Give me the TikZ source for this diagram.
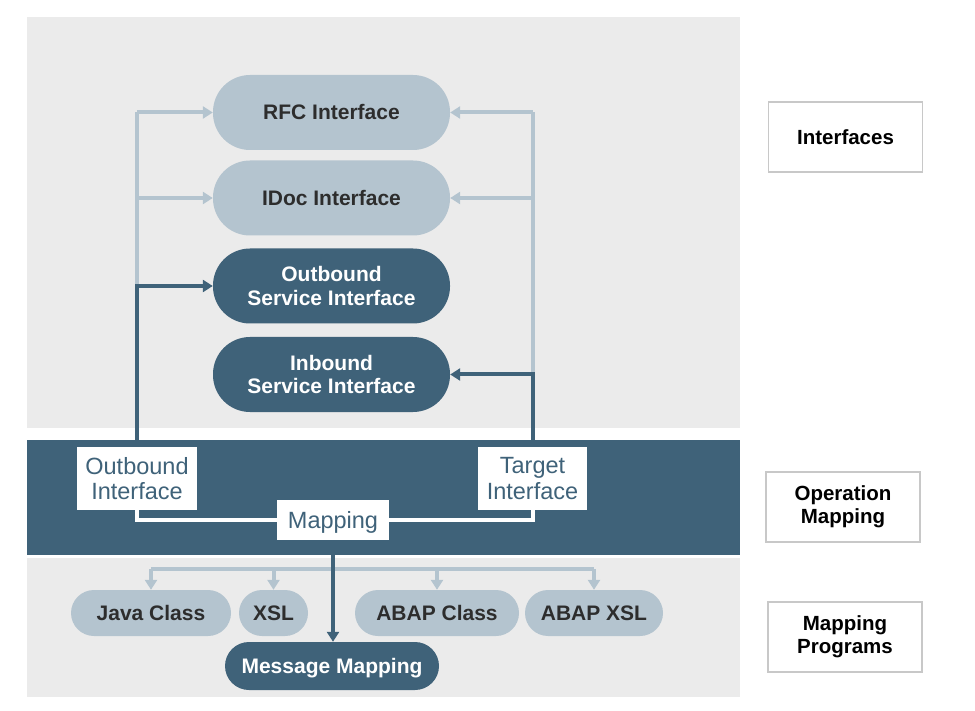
\documentclass[tikz,border=0pt]{standalone}
\usepackage{fontspec}
\setmainfont{Liberation Sans}
\usetikzlibrary{arrows.meta}
\definecolor{panelgray}{RGB}{235,235,235}
\definecolor{darkblue}{RGB}{63,98,121}
\definecolor{lightblue}{RGB}{180,196,207}
\definecolor{txtdark}{RGB}{45,45,45}
\definecolor{boxborder}{RGB}{200,200,200}
\tikzset{
  pill/.style={rectangle, rounded corners=#1, inner sep=0pt, align=center,
    font=\fontsize{21}{23.5}\selectfont\bfseries},
  lightpill/.style={pill=#1, fill=lightblue, text=txtdark},
  darkpill/.style={pill=#1, fill=darkblue, text=white},
  oneline/.style={text height=16pt, text depth=1pt},
  bandlabel/.style={rectangle, fill=white, text=darkblue, inner sep=0pt, align=center,
    font=\fontsize{23.5}{25.5}\selectfont},
  legendbox/.style={rectangle, draw=boxborder, line width=1.2pt, fill=white, text=black,
    inner sep=0pt, align=center, font=\fontsize{20.5}{23}\selectfont\bfseries,
    minimum width=154pt, minimum height=70pt},
  lightline/.style={draw=lightblue, line width=4pt},
  darkline/.style={draw=darkblue, line width=4pt},
  whiteline/.style={draw=white, line width=4pt},
  tip/.style={-{Triangle[length=10pt,width=12pt]}},
}
\begin{document}
\begin{tikzpicture}[x=1pt,y=-1pt]
\useasboundingbox (0,0) rectangle (975,711);
\fill[white] (0,0) rectangle (975,711);
% panels
\fill[panelgray] (27,17) rectangle (740,428);
\fill[darkblue] (27,440) rectangle (740,555);
\fill[panelgray] (27,558) rectangle (740,697);

% interface nodes
\node[lightpill=37pt, oneline, minimum width=237pt, minimum height=75pt] (rfc) at (331.5,112.5) {RFC Interface};
\node[lightpill=37pt, oneline, minimum width=237pt, minimum height=75pt] (idoc) at (331.5,198) {IDoc Interface};
\node[darkpill=37pt, minimum width=237pt, minimum height=75pt] (osi) at (331.5,286) {Outbound\\Service Interface};
\node[darkpill=37pt, minimum width=237pt, minimum height=75pt] (isi) at (331.5,374.5) {Inbound\\Service Interface};

% band labels
\node[bandlabel, minimum width=120pt, minimum height=63pt] (obi) at (137,478.5) {Outbound\\Interface};
\node[bandlabel, minimum width=109pt, minimum height=63pt] (tgt) at (532.5,478.5) {Target\\Interface};
\node[bandlabel, minimum width=112pt, minimum height=40pt, text height=17pt, text depth=1pt] (map) at (333,520) {Mapping};

% mapping programs
\node[lightpill=23pt, oneline, minimum width=160pt, minimum height=46pt] (java) at (151,613) {Java Class};
\node[lightpill=23pt, oneline, minimum width=69pt, minimum height=46pt] (xsl) at (273.5,613) {XSL};
\node[lightpill=23pt, oneline, minimum width=164pt, minimum height=46pt] (abapc) at (437,613) {ABAP Class};
\node[lightpill=23pt, oneline, minimum width=138pt, minimum height=46pt] (abapx) at (594,613) {ABAP XSL};
\node[darkpill=24pt, oneline, minimum width=214pt, minimum height=48pt] (mm) at (332,666) {Message Mapping};

% legend boxes
\node[legendbox] (lif) at (845.5,137) {Interfaces};
\node[legendbox] (lop) at (843,507) {Operation\\Mapping};
\node[legendbox] (lmp) at (845,637) {Mapping\\Programs};

% coordinates
\coordinate (lb) at (137,287);
\coordinate (rb) at (533,375);
\coordinate (bar) at (0,569);

% left side connectors
\draw[lightline] (lb) -- (lb |- rfc.west);
\draw[lightline, tip] (lb |- rfc.west) -- (rfc.west);
\draw[lightline, tip] (lb |- idoc.west) -- (idoc.west);
\draw[darkline, tip] (obi.north) |- (osi.west);

% right side connectors
\draw[lightline] (rb) -- (rb |- rfc.east);
\draw[lightline, tip] (rb |- rfc.east) -- (rfc.east);
\draw[lightline, tip] (rb |- idoc.east) -- (idoc.east);
\draw[darkline, tip] (tgt.north) |- (isi.east);

% band white connectors
\draw[whiteline] (obi.south) |- (map.west);
\draw[whiteline] (map.east) -| (tgt.south);

% mapping programs connectors
\draw[lightline] (java.north |- bar) -- (abapx.north |- bar);
\draw[lightline, tip] (java.north |- bar) -- (java.north);
\draw[lightline, tip] (xsl.north |- bar) -- (xsl.north);
\draw[lightline, tip] (abapc.north |- bar) -- (abapc.north);
\draw[lightline, tip] (abapx.north |- bar) -- (abapx.north);
\draw[darkline, tip] (map.south) -- (map.south |- mm.north);
\end{tikzpicture}
\end{document}
